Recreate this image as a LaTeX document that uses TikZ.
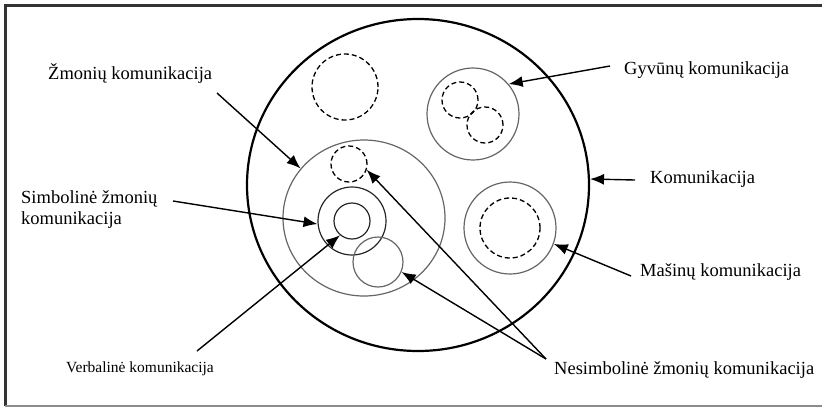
\documentclass[tikz,border=0pt]{standalone}
\usepackage{fontspec}
\setmainfont{Liberation Serif}
\usetikzlibrary{arrows.meta,shapes.geometric}
\tikzset{
    >={Latex[length=14pt,width=11pt]},
    ratas/.style={
        circle, draw=black!60, line width=1.2pt, inner sep=0pt,
        minimum size=#1
    },
    bruks/.style={
        circle, draw, dash pattern=on 5pt off 3pt, line width=1.3pt,
        inner sep=0pt, minimum size=#1
    },
    zyme/.style={anchor=west, inner sep=0pt, font=\fontsize{18.5}{21}\selectfont},
    rodykle/.style={->, line width=1.4pt}
}
\begin{document}
\begin{tikzpicture}[x=1pt,y=-1pt]
		\useasboundingbox (0,0) rectangle (822,408);
		
		% Frame
		\draw [line width=3pt, black!80] (5,406) -- (5,5) -- (822,5);
		\draw [line width=2pt, black!45] (5,406) -- (822,406);
		
		% Komunikacija
		\node (kom) [ellipse, draw, line width=2.2pt, inner sep=0pt, minimum width=342pt, minimum height=332pt] at (418,185) {};
		
		% Unnamed dashed circle
		\node (tuscias) [bruks=66pt] at (345,87) {};
		
		% Gyvunu komunikacija
		\node (gyv) [ratas=92pt] at (473,114) {};
		\node (gyva) [bruks=36pt] at (460,100) {};
		\node (gyvb) [bruks=36pt] at (485,125) {};
		
		% Zmoniu komunikacija
		\node (zmo) [ellipse, draw=black!60, line width=1.2pt, inner sep=0pt, minimum width=162pt, minimum height=156pt] at (364,218) {};
		\node (nesd) [bruks=36pt] at (349,164) {};
		\node (simb) [ratas=68pt, draw=black!85] at (352,221) {};
		\node (verb) [ratas=36pt, draw=black!85] at (352,221) {};
		\node (nes) [ratas=50pt] at (378,262) {};
		
		% Masinu komunikacija
		\node (mas) [ratas=92pt] at (510,228) {};
		\node (masd) [bruks=60pt] at (510,228) {};
		
		% Labels
		\node (tgyv) [zyme] at (624,70) {Gyvūnų komunikacija};
		\node (tkom) [zyme] at (650,179) {Komunikacija};
		\node (tmas) [zyme] at (640,272) {Mašinų komunikacija};
		\node (tzmo) [zyme] at (48,74) {Žmonių komunikacija};
		\node (tsimb) [zyme, align=left] at (21,210) {Simbolinė žmonių\\komunikacija};
		\node (tverb) [zyme, font=\fontsize{15.5}{18}\selectfont] at (66,369) {Verbalinė komunikacija};
		\node (tnes) [zyme] at (554,370) {Nesimbolinė žmonių komunikacija};
		
		% Line starts
		\coordinate (gyv-s) at (610,66);
		\coordinate (kom-s) at (635,180);
		\coordinate (mas-s) at (631,276);
		\coordinate (zmo-s) at (217,93);
		\coordinate (simb-s) at (173,201);
		\coordinate (verb-s) at (197,351);
		\coordinate (nes-s) at (546,359);
		
		% Arrows
		\draw [rodykle] (gyv-s) -- (gyv.40);
		\draw [rodykle] (kom-s) -- (kom.2);
		\draw [rodykle] (mas-s) -- (mas.340);
		\draw [rodykle] (zmo-s) -- (zmo.142);
		\draw [rodykle] (simb-s) -- (simb.185);
		\draw [rodykle] (verb-s) -- (verb.230);
		\draw [rodykle] (nes-s) -- (nes.337);
		\draw [rodykle] (nes-s) -- (nesd.342);
		
	\end{tikzpicture}
\end{document}
